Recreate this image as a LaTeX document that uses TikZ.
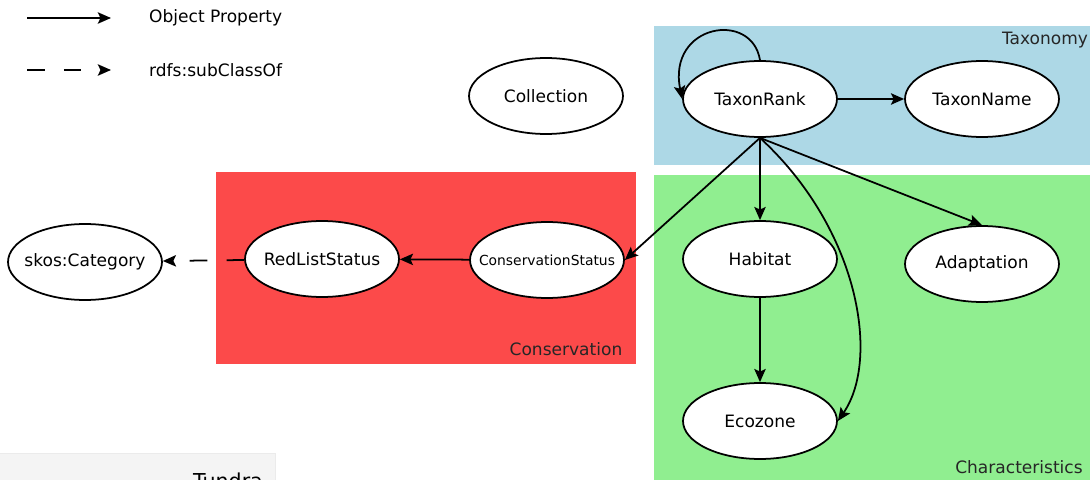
\documentclass[tikz,border=0pt]{standalone}
\usepackage{fontspec}
\setmainfont{DejaVu Sans}
\usepackage{tikz}
\usetikzlibrary{shapes.geometric}
\usetikzlibrary{arrows.meta}
\definecolor{taxblue}{RGB}{173,216,230}
\definecolor{chargreen}{RGB}{144,238,144}
\definecolor{consred}{RGB}{252,74,74}
\definecolor{tundragrey}{RGB}{244,244,244}
\tikzset{
   px/.style={x={(0.02cm,0)}, y={(0,-0.02cm)}},
   class/.style={ellipse, draw=black, line width=1pt, fill=white,
      minimum width=3.08cm, minimum height=1.52cm, inner sep=0pt,
      label={[font=\fontsize{9.7}{11}\selectfont]center:#1}},
   objprop/.style={->, draw=black, line width=1pt},
   subclass/.style={->, draw=black, line width=1pt,
      dash pattern=on 10pt off 11pt},
   regionlabel/.style={font=\fontsize{9.7}{11}\selectfont, text=black!85},
   legendtext/.style={anchor=west, font=\fontsize{9.7}{11}\selectfont},
    }

\begin{document}
\begin{tikzpicture}[px, >={Stealth[length=7.5pt,width=6.5pt,inset=1.5pt]}]
            \useasboundingbox (0,0) rectangle (1090,480);
            \clip (0,0) rectangle (1090,480);
            \fill[taxblue] (654,26) rectangle (1090,165);
            \fill[chargreen] (654,175) rectangle (1090,480);
            \fill[consred] (216,172) rectangle (636,364);
            \filldraw[fill=tundragrey, draw=black!8] (-5,453) rectangle (275,490);
            \node[regionlabel] (taxlab) at (1045,40) {Taxonomy};
            \node[regionlabel] (charlab) at (1019,467) {Characteristics};
            \node[regionlabel] (conslab) at (566,349) {Conservation};
            \node[font=\fontsize{11.7}{13}\selectfont] (tundra) at (228,481) {Tundra};

            \coordinate (opa) at (27,18);
            \coordinate (opb) at (111,18);
            \coordinate (sca) at (27,70);
            \coordinate (scb) at (111,70);
            \draw[objprop] (opa) -- (opb);
            \draw[subclass] (sca) -- (scb);
            \node[legendtext] (optext) at (143,18) {Object Property};
            \node[legendtext] (sctext) at (143,70) {rdfs:subClassOf};

            \node[class=Collection] (coll) at (546,96) {};
            \node[class=TaxonRank] (tr) at (760,99) {};
            \node[class=TaxonName] (tn) at (982,99) {};
            \node[class=Habitat] (hab) at (760,259) {};
            \node[class=Adaptation] (ad) at (982,264) {};
            \node[class=Ecozone] (ez) at (760,421) {};
            \node[class=RedListStatus] (rl) at (322,259) {};
            \node[class={}, label={[font=\fontsize{7.9}{9}\selectfont]center:ConservationStatus}] (cs) at (547,260) {};
            \node[class=skos:Category] (sk) at (85,262) {};

            \draw[objprop] (tr.north) .. controls +(-8,-50) and +(-15,-75) .. (tr.west);
            \draw[objprop] (tr) -- (tn);
            \draw[objprop] (tr.south) -- (hab.north);
            \draw[objprop] (tr.south) -- (cs.east);
            \draw[objprop] (tr.south) -- (ad.north);
            \draw[objprop] (tr.south) .. controls (860,230) and (880,360) .. (ez.east);
            \draw[objprop] (hab) -- (ez);
            \draw[objprop] (cs) -- (rl);
            \draw[subclass] (rl) -- (sk);

        \end{tikzpicture}
\end{document}
